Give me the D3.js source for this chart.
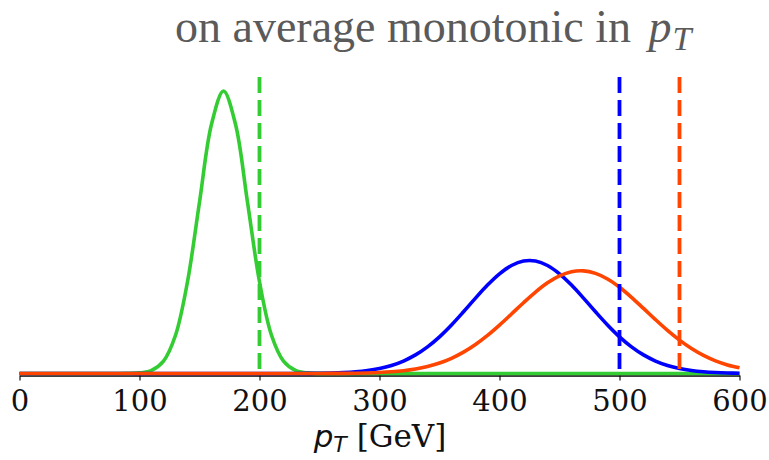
<!DOCTYPE html>
<html>
<head>
<meta charset="utf-8">
<script src="https://cdn.jsdelivr.net/npm/d3@7"></script>
<style>
html,body{margin:0;padding:0;background:#fff;}
svg{display:block;}
</style>
</head>
<body>
<svg id="chart" width="769" height="460"></svg>
<script>
// x sample points (pT in GeV)
const pT = [0,10,20,30,40,50,60,70,80,90,100,110,120,130,140,150,160,170,180,190,200,210,220,230,240,250,260,270,280,290,300,310,320,330,340,350,360,370,380,390,400,410,420,430,440,450,460,470,480,490,500,510,520,530,540,550,560,570,580,590,600];
// distribution heights (arbitrary units, x1000)
const greenDist = [0,0,0,0,0,0,0,0,0.0008,0.0067,0.0436,0.222,0.876,2.70,6.48,12.10,17.60,19.95,17.60,12.10,6.48,2.70,0.876,0.222,0.0436,0.0067,0.0008,0,0,0,0,0,0,0,0,0,0,0,0,0,0,0,0,0,0,0,0,0,0,0,0,0,0,0,0,0,0,0,0,0,0];
const blueDist = [0,0,0,0,0,0,0,0,0,0,0,0,0,0,0,0,0,0,0,0,0.0003,0.0008,0.0018,0.0040,0.0085,0.0175,0.0345,0.0654,0.119,0.208,0.351,0.567,0.880,1.312,1.881,2.591,3.428,4.357,5.322,6.245,7.041,7.628,7.939,7.939,7.628,7.041,6.245,5.322,4.357,3.428,2.591,1.881,1.312,0.880,0.567,0.351,0.208,0.119,0.0654,0.0345,0.0175];
const orangeDist = [0,0,0,0,0,0,0,0,0,0,0,0,0,0,0,0,0,0,0,0,0,0,0.0003,0.0007,0.0014,0.0029,0.0059,0.0115,0.0217,0.0397,0.0702,0.120,0.199,0.319,0.494,0.740,1.074,1.507,2.046,2.688,3.416,4.200,4.996,5.750,6.402,6.896,7.187,7.247,7.069,6.672,6.092,5.382,4.600,3.803,3.043,2.355,1.763,1.277,0.895,0.607,0.398];
// threshold (dashed) positions
const thresholds = [200, 500, 550];
const tickValues = [0,100,200,300,400,500,600];
const seriesColors = ["#33cc33", "#0000ff", "#ff4500"];

const svg = d3.select("#chart");
const x = d3.scaleLinear().domain([0, 600]).range([19.5, 739.5]);
const y = d3.scaleLinear().domain([0, 19.95]).range([373.5, 91]);

// axis
const axis = d3.axisBottom(x).tickValues(tickValues).tickSize(5).tickSizeOuter(0).tickPadding(10).tickFormat(d3.format("d"));
const gAxis = svg.append("g").attr("transform", "translate(0,375.5)").call(axis);
gAxis.select(".domain").attr("stroke", "#000").attr("stroke-width", 1.3);
gAxis.selectAll(".tick line").attr("stroke", "#000").attr("stroke-width", 1.1);
gAxis.selectAll(".tick text").attr("font-family", "DejaVu Serif").attr("font-size", 29).attr("fill", "#111");

// curves
const series = [greenDist, blueDist, orangeDist];
const line = d3.line().x((d, i) => x(pT[i])).y(d => y(d)).curve(d3.curveCatmullRom.alpha(0.5));
series.forEach((s, k) => {
  svg.append("path").datum(s).attr("d", line)
    .attr("fill", "none").attr("stroke", seriesColors[k]).attr("stroke-width", 3.6)
    .attr("stroke-linejoin", "round");
});

// dashed thresholds
thresholds.forEach((t, k) => {
  svg.append("line")
    .attr("x1", x(t)).attr("x2", x(t))
    .attr("y1", 77).attr("y2", 373.5)
    .attr("stroke", seriesColors[k]).attr("stroke-width", 3.8)
    .attr("stroke-dasharray", "16,7");
});

// title
const title = svg.append("text").attr("x", 175).attr("y", 42)
  .attr("font-family", "Liberation Serif").attr("font-size", 46).attr("fill", "#5a5a5a");
title.append("tspan").text("on average monotonic in ");
title.append("tspan").attr("font-style", "italic").attr("dx", 6).text("p");
title.append("tspan").attr("font-style", "italic").attr("font-size", 34).attr("dx", 1).attr("dy", 8).text("T");

// x label
const xl = svg.append("text").attr("x", 380).attr("y", 447).attr("text-anchor", "middle")
  .attr("font-family", "DejaVu Serif").attr("font-size", 31).attr("fill", "#111");
xl.append("tspan").attr("font-family", "DejaVu Sans").attr("font-style", "italic").text("p");
xl.append("tspan").attr("font-family", "DejaVu Sans").attr("font-style", "italic").attr("font-size", 22).attr("dy", 5).text("T");
xl.append("tspan").attr("dy", -5).text(" [GeV]");
</script>
</body>
</html>
